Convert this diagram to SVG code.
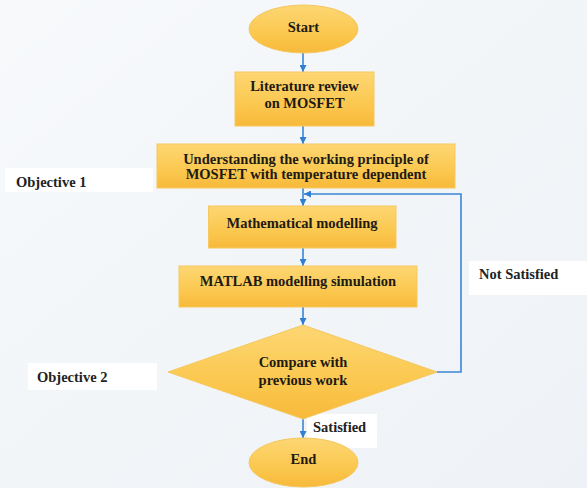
<svg xmlns="http://www.w3.org/2000/svg" width="587" height="488" viewBox="0 0 587 488">
<defs>
<linearGradient id="bg" x1="0" y1="0" x2="1" y2="1">
<stop offset="0" stop-color="#f7f9fb"/>
<stop offset="1" stop-color="#eef2f6"/>
</linearGradient>
<linearGradient id="gold" x1="0" y1="0" x2="0" y2="1">
<stop offset="0" stop-color="#fdd673"/>
<stop offset="0.6" stop-color="#fbc84f"/>
<stop offset="1" stop-color="#f7b93a"/>
</linearGradient>
<marker id="ah" viewBox="0 0 10 10" refX="10" refY="5" markerWidth="7" markerHeight="7" markerUnits="userSpaceOnUse" orient="auto">
<path d="M0,0 L10,5 L0,10 z" fill="#2f7fd4"/>
</marker>
</defs>
<style>
.shape{fill:url(#gold);stroke:#f5c860;stroke-width:1}
text{font-family:'Liberation Serif','Tinos','DejaVu Serif',serif;font-size:14.5px;font-weight:bold}
.t{fill:#1e1a14;text-anchor:middle}
.lbl{fill:#222}
.lb{fill:#ffffff}
.c{fill:none;stroke:#3a86d6;stroke-width:1.6}
</style>
<rect width="587" height="488" fill="url(#bg)"/>

<g id="label-objective1"><rect class="lb" x="5" y="168" width="148" height="24"/><text class="lbl" x="16" y="187">Objective 1</text></g>
<g id="label-not-satisfied"><rect class="lb" x="469" y="261" width="118" height="34"/><text class="lbl" x="479" y="279">Not Satisfied</text></g>
<g id="label-objective2"><rect class="lb" x="28" y="363" width="129" height="27"/><text class="lbl" x="37" y="382">Objective 2</text></g>
<g id="label-satisfied"><rect class="lb" x="307" y="414" width="70" height="34"/><text class="lbl" x="313" y="432">Satisfied</text></g>

<g id="connectors">
<line class="c" x1="303" y1="53" x2="303" y2="72" marker-end="url(#ah)"/>
<line class="c" x1="303" y1="126" x2="303" y2="144" marker-end="url(#ah)"/>
<line class="c" x1="303" y1="188" x2="303" y2="206" marker-end="url(#ah)"/>
<line class="c" x1="303" y1="248" x2="303" y2="266" marker-end="url(#ah)"/>
<line class="c" x1="303" y1="307" x2="303" y2="325" marker-end="url(#ah)"/>
<line class="c" x1="303" y1="419" x2="303" y2="438" marker-end="url(#ah)"/>
<polyline class="c" points="437,372 461,372 461,194 304,194" marker-end="url(#ah)"/>
</g>

<g id="start"><ellipse class="shape" cx="303.5" cy="29" rx="54.5" ry="24"/><text class="t" x="303.5" y="32">Start</text></g>
<g id="literature"><rect class="shape" x="235" y="72" width="139" height="54"/><text class="t" x="304.5" y="91">Literature review</text><text class="t" x="304.5" y="108">on MOSFET</text></g>
<g id="understanding"><rect class="shape" x="157" y="144" width="298" height="44"/><text class="t" x="306" y="163.5">Understanding the working principle of</text><text class="t" x="306" y="179">MOSFET with temperature dependent</text></g>
<g id="math"><rect class="shape" x="208.5" y="206" width="187.5" height="42"/><text class="t" x="302" y="228">Mathematical modelling</text></g>
<g id="matlab"><rect class="shape" x="179" y="266" width="238" height="41"/><text class="t" x="298" y="286">MATLAB modelling simulation</text></g>
<g id="compare"><polygon class="shape" points="303,325 437,372 303,419 168,372"/><text class="t" x="303" y="367">Compare with</text><text class="t" x="303" y="385">previous work</text></g>
<g id="end"><ellipse class="shape" cx="303.5" cy="462.5" rx="54.5" ry="24.5"/><text class="t" x="303.5" y="464">End</text></g>
</svg>
